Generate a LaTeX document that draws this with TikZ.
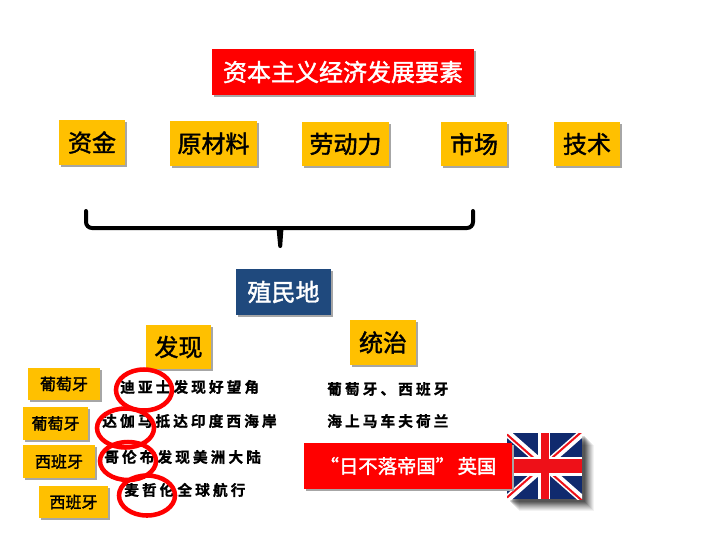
\documentclass[tikz,border=0pt]{standalone}
\usepackage{fontspec}
\setmainfont{Liberation Sans}
\newfontfamily\cjk[FakeBold=1.6]{Noto Sans CJK SC}
\newfontfamily\cjkspaced[LetterSpace=21,FakeBold=1.2]{Noto Sans CJK SC Bold}
\definecolor{boxgold}{RGB}{255,192,0}
\definecolor{boxnavy}{RGB}{31,73,125}
\definecolor{flagblue}{RGB}{16,42,110}
\definecolor{flagred}{RGB}{238,16,24}
\tikzset{
  pxbox/.style={inner sep=0pt,outer sep=0pt,align=center},
  shadowrect/.style={fill=black!35,draw=none},
  goldbox/.style={pxbox,fill=boxgold,text=black},
  redbox/.style={pxbox,fill=red,text=white},
  navybox/.style={pxbox,fill=boxnavy,text=white},
  labeltext/.style={inner sep=0pt,font=\cjkspaced\fontsize{11pt}{12pt}\selectfont,text=black},
  ring/.style={draw=red,line width=3.4pt,fill=none},
  bracket/.style={draw=black,line width=3pt,line join=round,line cap=round},
}
% \pxb{name}{style}{x0}{y0}{x1}{y1}{font size pt}{text}
\newcommand{\pxb}[8]{%
  \fill[shadowrect] (#3+2,#4+2) rectangle (#5+2,#6+2);
  \node[#2,minimum width=(#5-#3)*0.75pt,minimum height=(#6-#4)*0.75pt,font=\cjk\fontsize{#7}{#7}\selectfont]
    (#1) at ({(#3+#5)/2},{(#4+#6)/2}) {#8};
}
\begin{document}
\begin{tikzpicture}[x=0.75pt,y=-0.75pt]
\useasboundingbox (0,0) rectangle (720,540);
\fill[white] (0,0) rectangle (720,540);

\pxb{title}{redbox}{212}{49}{474}{95}{18pt}{资本主义经济发展要素}
\pxb{capital}{goldbox}{59}{120}{125}{165}{18pt}{资金}
\pxb{material}{goldbox}{170}{121}{257}{166}{18pt}{原材料}
\pxb{labor}{goldbox}{302}{122}{389}{166}{18pt}{劳动力}
\pxb{market}{goldbox}{441}{122}{507}{166}{18pt}{市场}
\pxb{tech}{goldbox}{554}{122}{620}{166}{18pt}{技术}

% bracket
\coordinate (bl) at (86,211);
\coordinate (br) at (473,211);
\draw[bracket,rounded corners=4.5pt] (bl) -- (86,228) -- (473,228) -- (br);
\fill[black] (276.5,228) -- (283.5,228) -- (282.2,246) arc (0:180:2) -- cycle;

\pxb{colony}{navybox}{236}{269}{331}{315}{18pt}{殖民地}
\pxb{discover}{goldbox}{146}{325}{211}{369}{18pt}{发现}
\pxb{rule}{goldbox}{350}{320}{416}{365}{18pt}{统治}

\pxb{pt1}{goldbox}{28}{368}{100}{400}{12pt}{葡萄牙}
\pxb{pt2}{goldbox}{23}{407}{88}{440}{12pt}{葡萄牙}
\pxb{es1}{goldbox}{23}{445}{95}{478}{12pt}{西班牙}
\pxb{es2}{goldbox}{39}{486}{108}{518}{12pt}{西班牙}

\node[labeltext,anchor=west] (l1) at (120,387) {迪亚士发现好望角};
\node[labeltext,anchor=west] (l2) at (102,421) {达伽马抵达印度西海岸};
\node[labeltext,anchor=west] (l3) at (104,457) {哥伦布发现美洲大陆};
\node[labeltext,anchor=west] (l4) at (124,490) {麦哲伦全球航行};
\node[labeltext,anchor=west] (r1) at (327,389) {葡萄牙、西班牙};
\node[labeltext,anchor=west] (r2) at (327,421) {海上马车夫荷兰};

\draw[ring] (144,390) ellipse (28 and 20.5);
\draw[ring] (125.5,428) ellipse (28.5 and 19.5);
\draw[ring] (128,461) ellipse (28 and 19);
\draw[ring] (147,495.5) ellipse (28 and 20);

% flag
\foreach \o/\a in {12/0.05,11/0.06,10/0.07,9/0.08,8/0.09,7/0.10,6/0.12,5/0.14,4/0.14,3/0.14}
  \fill[black,opacity=\a] (507+\o,433+\o) rectangle (582+\o,499+\o);
\begin{scope}
\clip (507,433) rectangle (582,499);
\fill[flagblue] (507,433) rectangle (582,499);
\draw[white,line width=5.5pt] (507,433) -- (582,499) (507,499) -- (582,433);
\draw[flagred,line width=1.5pt] (507,434.5) -- (582,500.5) (507,497.5) -- (582,431.5);
\fill[white] (507,456.5) rectangle (582,475.5);
\fill[white] (538,433) rectangle (550,499);
\fill[flagred] (507,459) rectangle (582,473);
\fill[flagred] (540.5,433) rectangle (548.5,499);
\end{scope}

\pxb{empire}{redbox}{304}{443}{512}{489}{14.5pt}{“日不落帝国”\hspace{2pt}英国}
\end{tikzpicture}
\end{document}
